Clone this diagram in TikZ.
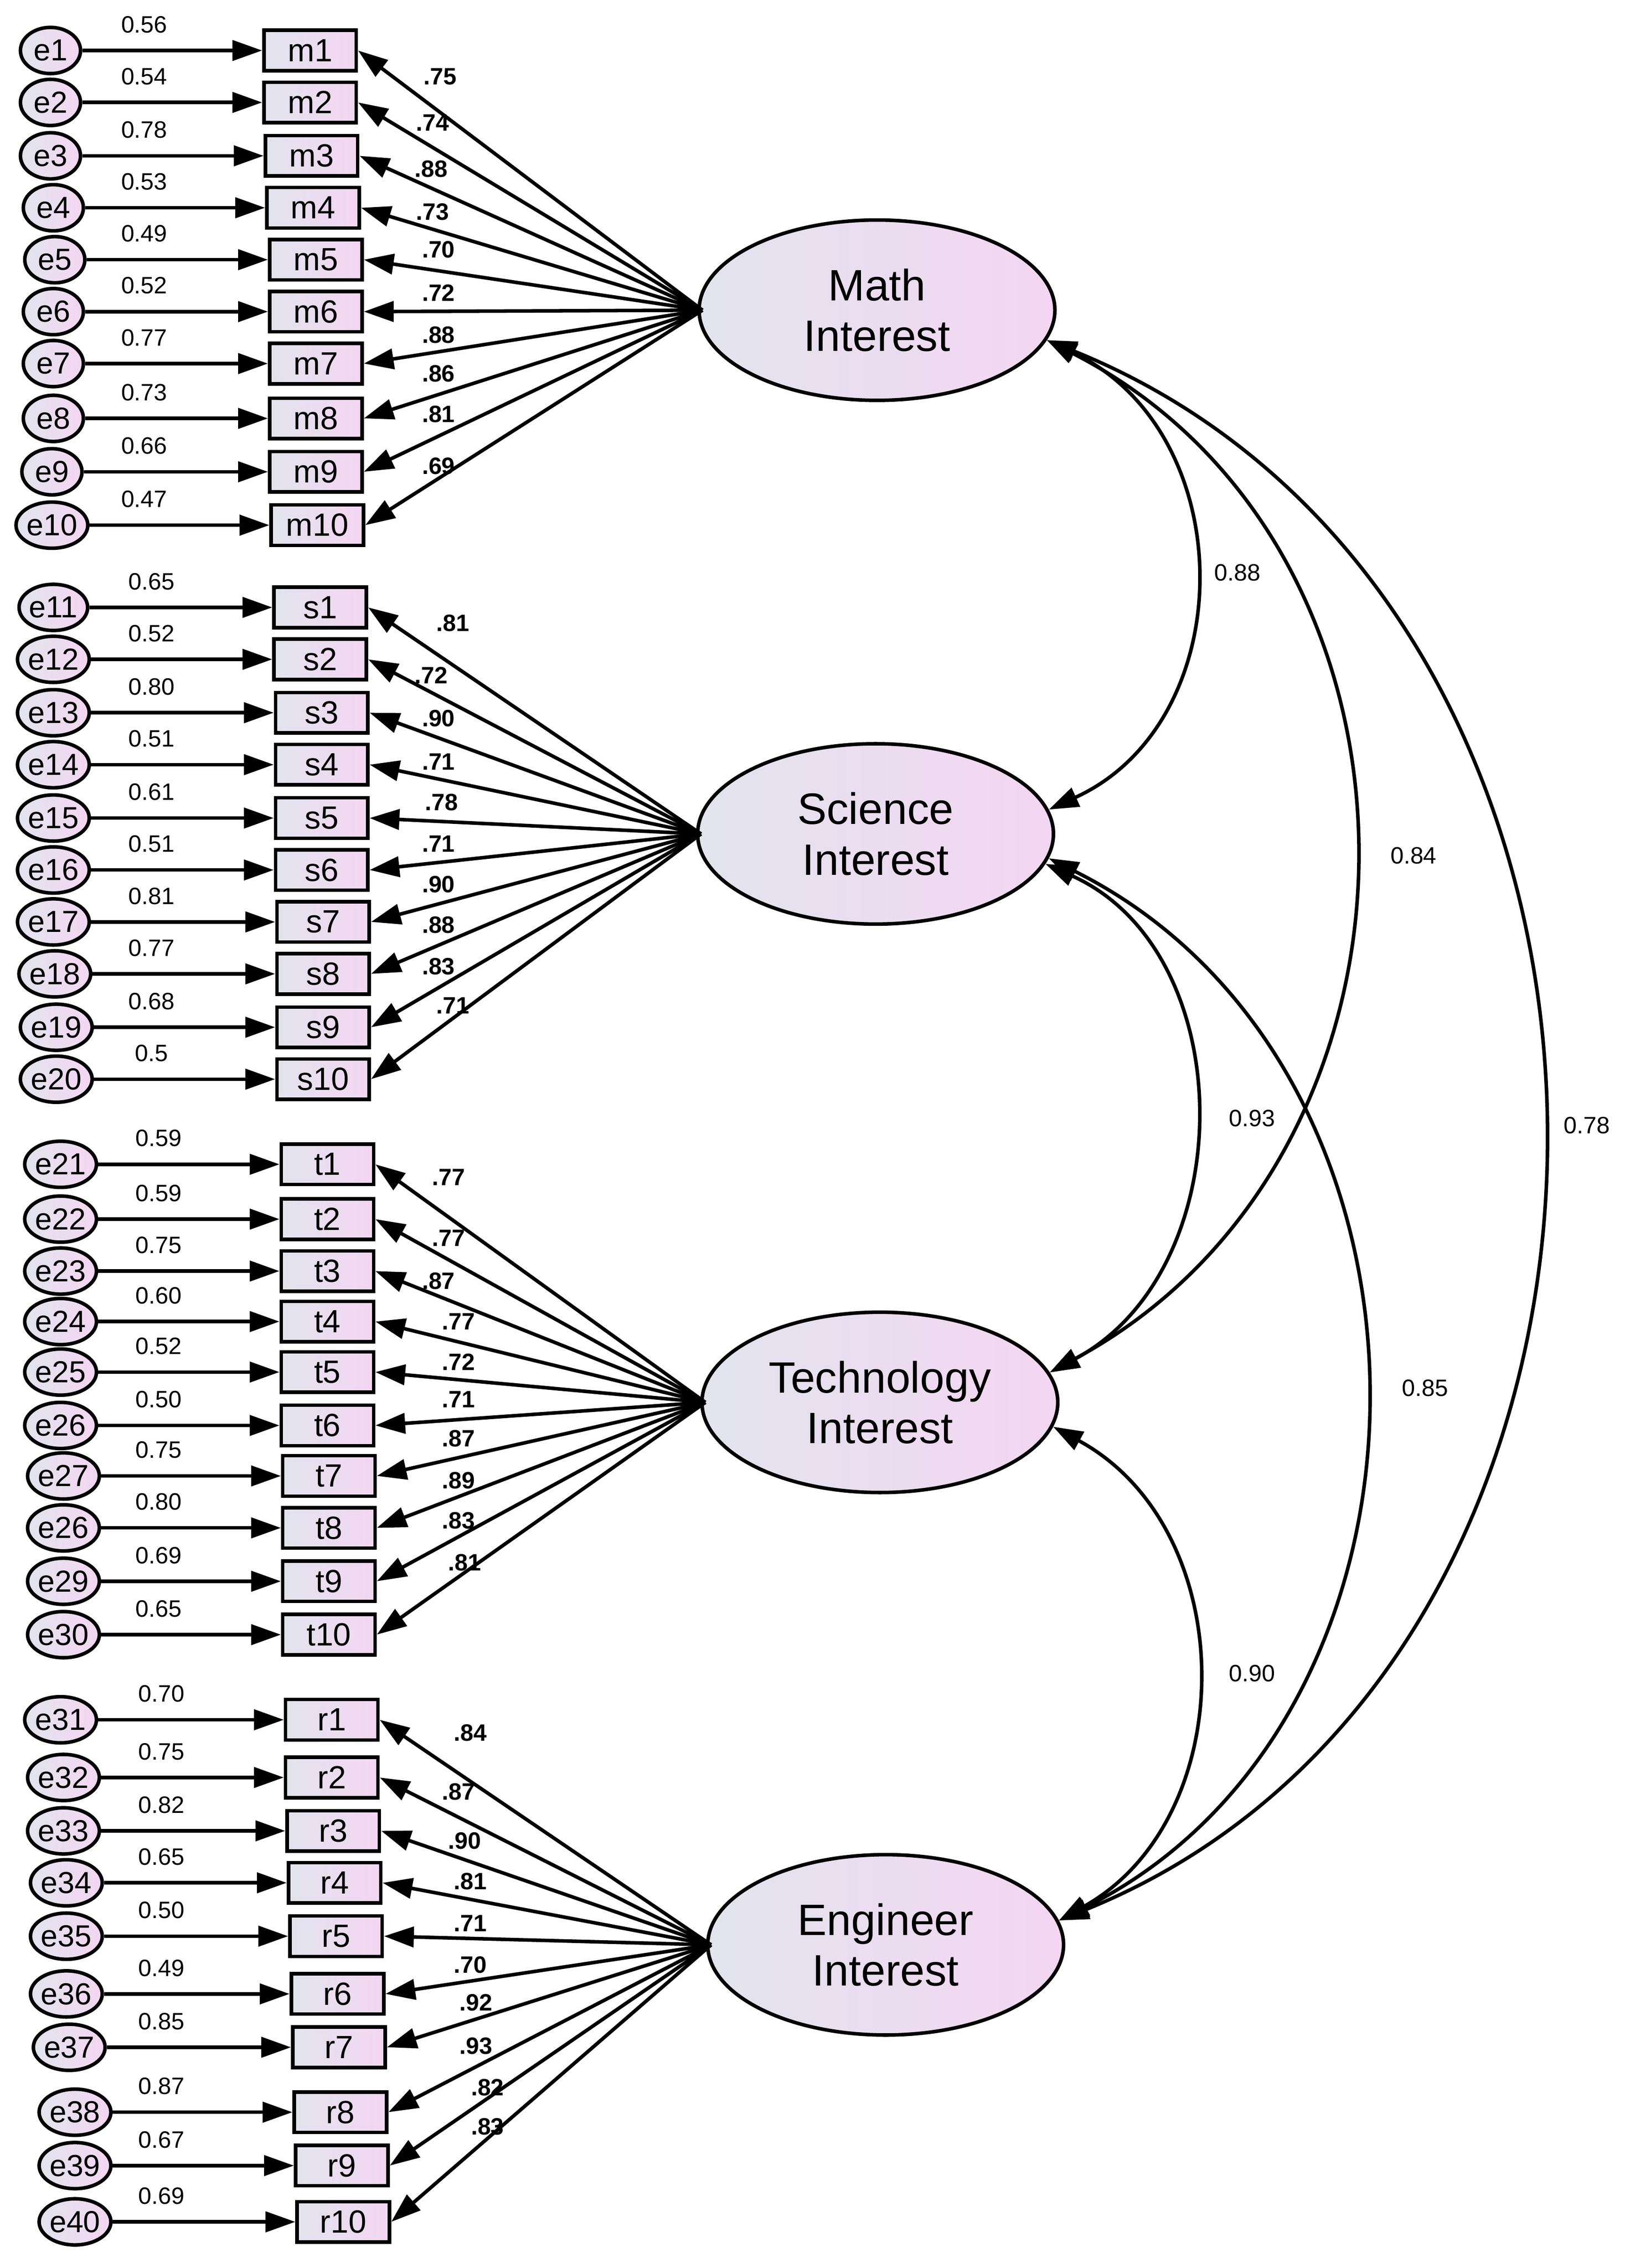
\documentclass[tikz,border=0pt]{standalone}
\usepackage{fontspec}
\setmainfont{Liberation Sans}
\usetikzlibrary{arrows.meta,shapes.geometric}
\definecolor{lc}{HTML}{E2E4EE}
\definecolor{rc}{HTML}{F4D6F2}
\begin{document}
\begin{tikzpicture}[x=0.03cm,y=-0.03cm,
  lw/.style={line width=2.1pt},
  err/.style={ellipse,draw,lw,left color=lc,right color=rc,minimum width=1.25cm,minimum height=0.96cm,inner sep=0pt,font=\fontsize{18}{18}\selectfont},
  obs/.style={rectangle,draw,lw,left color=lc,right color=rc,minimum width=1.92cm,minimum height=0.84cm,inner sep=0pt,font=\fontsize{19}{19}\selectfont},
  lat/.style={ellipse,draw,lw,left color=lc,right color=rc,minimum width=7.4cm,minimum height=3.75cm,align=center,inner sep=0pt,font=\fontsize{26}{30}\selectfont},
  tip/.style={-{Triangle[length=0.62cm,width=0.42cm]}},
  path/.style={lw,tip},
  cov/.style={lw,{Triangle[length=0.62cm,width=0.42cm]}-{Triangle[length=0.62cm,width=0.42cm]}},
  val/.style={font=\fontsize{14}{14}\selectfont},
  ld/.style={font=\bfseries\fontsize{14}{14}\selectfont}]
\useasboundingbox (0,0) rectangle (1130,1572);

% latent variables
\node[lat] (M) at (608,215) {Math\\Interest};
\node[lat] (S) at (607,578) {Science\\Interest};
\node[lat] (T) at (610,972) {Technology\\Interest};
\node[lat] (E) at (614,1348) {Engineer\\Interest};
\coordinate (Mw) at (487,215);
\coordinate (Sw) at (486,578);
\coordinate (Tw) at (489,972);
\coordinate (Ew) at (493,1348);

% Math group
\foreach \i/\y/\bx/\ex/\ev/\lv/\lx/\ly in {
 1/35/215/35/0.56/.75/305/53, 2/71/215/35/0.54/.74/300/85, 3/108/216/35/0.78/.88/299/117,
 4/144/217/37/0.53/.73/300/147, 5/180/219/38/0.49/.70/304/173, 6/216/219/37/0.52/.72/304/203,
 7/252/219/37/0.77/.88/304/232, 8/290/219/37/0.73/.86/304/259, 9/327/219/36/0.66/.81/304/287,
 10/364/220/36/0.47/.69/304/323}{
  \node[err] (e\i) at (\ex,\y) {e\i};
  \node[obs] (m\i) at (\bx,\y) {m\i};
  \draw[path] (e\i) -- (m\i);
  \node[val] at (100,\y-18) {\ev};
  \draw[path] (Mw) -- (m\i.east);
  \node[ld] at (\lx,\ly) {\lv};
}

% Science group
\foreach \i/\n/\y/\bx/\ex/\ev/\lv/\lx/\ly in {
 11/1/421/222/37/0.65/.81/314/432, 12/2/457/222/37/0.52/.72/299/468, 13/3/494/223/37/0.80/.90/304/498,
 14/4/530/223/37/0.51/.71/304/528, 15/5/567/223/37/0.61/.78/306/556, 16/6/603/223/37/0.51/.71/304/585,
 17/7/639/224/37/0.81/.90/304/613, 18/8/675/224/38/0.77/.88/304/641, 19/9/712/224/39/0.68/.83/304/670,
 20/10/748/224/39/0.5/.71/314/697}{
  \node[err] (e\i) at (\ex,\y) {e\i};
  \node[obs] (s\n) at (\bx,\y) {s\n};
  \draw[path] (e\i) -- (s\n);
  \node[val] at (105,\y-18) {\ev};
  \draw[path] (Sw) -- (s\n.east);
  \node[ld] at (\lx,\ly) {\lv};
}

% Technology group
\foreach \i/\n/\t/\y/\bx/\ex/\ev/\lv/\lx/\ly in {
 21/1/e21/807/227/42/0.59/.77/311/816, 22/2/e22/845/227/42/0.59/.77/311/858, 23/3/e23/881/227/42/0.75/.87/304/888,
 24/4/e24/916/227/42/0.60/.77/318/916, 25/5/e25/951/227/42/0.52/.72/318/944, 26/6/e26/988/227/42/0.50/.71/318/970,
 27/7/e27/1023/228/44/0.75/.87/318/997, 28/8/e26/1059/228/44/0.80/.89/318/1026, 29/9/e29/1096/228/44/0.69/.83/318/1054,
 30/10/e30/1133/228/44/0.65/.81/322/1083}{
  \node[err] (e\i) at (\ex,\y) {\t};
  \node[obs] (t\n) at (\bx,\y) {t\n};
  \draw[path] (e\i) -- (t\n);
  \node[val] at (110,\y-18) {\ev};
  \draw[path] (Tw) -- (t\n.east);
  \node[ld] at (\lx,\ly) {\lv};
}

% Engineer group
\foreach \i/\n/\y/\bx/\ex/\ev/\lv/\lx/\ly in {
 31/1/1192/230/42/0.70/.84/326/1201, 32/2/1232/230/44/0.75/.87/318/1242, 33/3/1269/231/44/0.82/.90/322/1276,
 34/4/1305/232/46/0.65/.81/326/1304, 35/5/1342/233/46/0.50/.71/326/1333, 36/6/1382/234/46/0.49/.70/326/1362,
 37/7/1419/235/48/0.85/.92/330/1388, 38/8/1464/236/52/0.87/.93/330/1418, 39/9/1501/237/52/0.67/.82/338/1447,
 40/10/1540/238/52/0.69/.83/338/1474}{
  \node[err] (e\i) at (\ex,\y) {e\i};
  \node[obs] (r\n) at (\bx,\y) {r\n};
  \draw[path] (e\i) -- (r\n);
  \node[val] at (112,\y-18) {\ev};
  \draw[path] (Ew) -- (r\n.east);
  \node[ld] at (\lx,\ly) {\lv};
}

% covariances
\draw[cov] (M.-10) .. controls (861,300) and (861,500) .. (S.8);
\draw[cov] (M.-10) .. controls (1008,380) and (1008,800) .. (T.10);
\draw[cov] (M.-10) .. controls (1181,420) and (1181,1150) .. (E.8);
\draw[cov] (S.-10) .. controls (861,660) and (861,880) .. (T.10);
\draw[cov] (S.-8) .. controls (1017,740) and (1017,1190) .. (E.8);
\draw[cov] (T.-8) .. controls (861,1060) and (861,1260) .. (E.8);
\node[val] at (858,397) {0.88};
\node[val] at (980,593) {0.84};
\node[val] at (1100,780) {0.78};
\node[val] at (868,775) {0.93};
\node[val] at (988,962) {0.85};
\node[val] at (868,1160) {0.90};
\end{tikzpicture}
\end{document}
